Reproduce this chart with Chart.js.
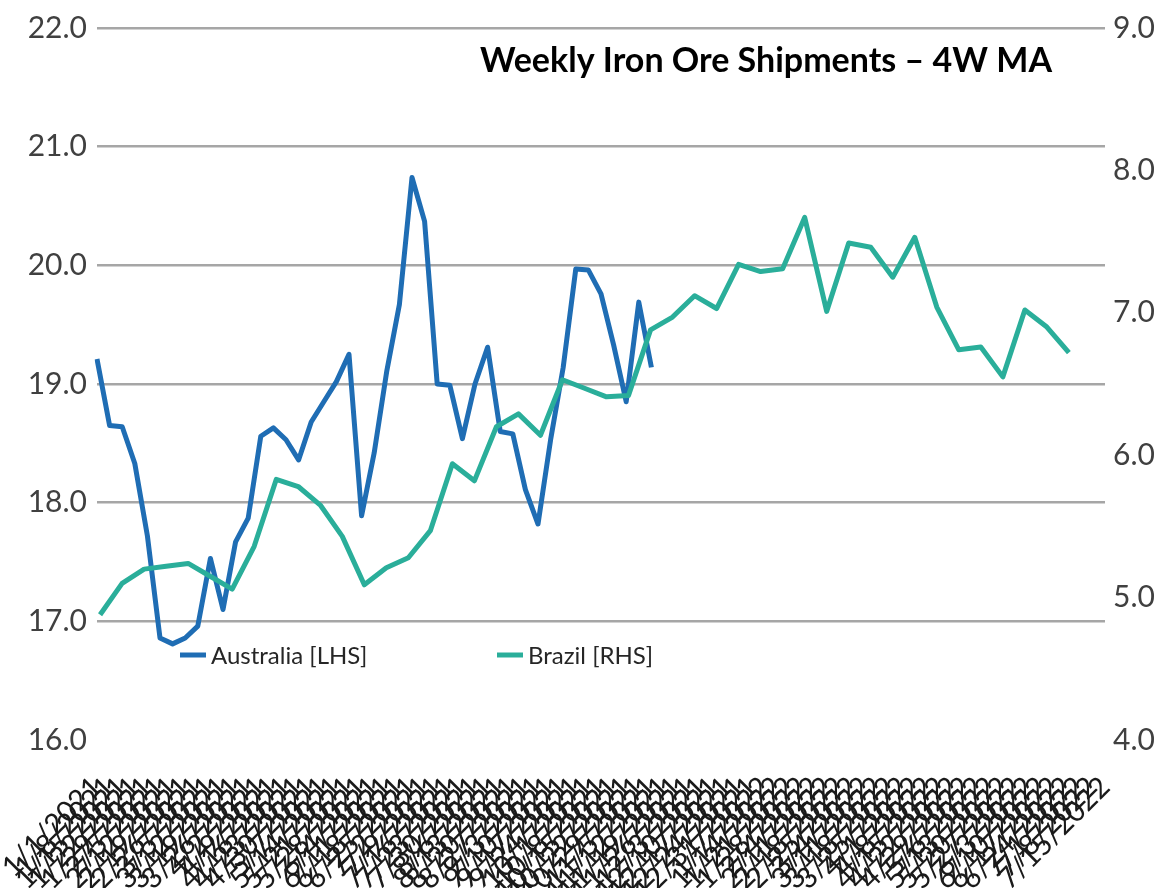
<!DOCTYPE html>
<html>
<head>
<meta charset="utf-8">
<title>Weekly Iron Ore Shipments – 4W MA</title>
<script src="https://cdn.jsdelivr.net/npm/chart.js@4.4.1/dist/chart.umd.min.js"></script>
<style>
  html, body { margin: 0; padding: 0; background: #ffffff; }
  #wrap { position: relative; width: 1163px; height: 888px; }
</style>
</head>
<body>
<div id="wrap"><canvas id="chart"></canvas></div>
<script>
// weekly dates on the visible (primary) category axis
const weekLabels = [
  '1/1/2021', '1/8/2021', '1/15/2021', '1/22/2021', '1/29/2021',
  '2/5/2021', '2/12/2021', '2/19/2021', '2/26/2021',
  '3/5/2021', '3/12/2021', '3/19/2021', '3/26/2021',
  '4/2/2021', '4/9/2021', '4/16/2021', '4/23/2021', '4/30/2021',
  '5/7/2021', '5/14/2021', '5/21/2021', '5/28/2021',
  '6/4/2021', '6/11/2021', '6/18/2021', '6/25/2021',
  '7/2/2021', '7/9/2021', '7/16/2021', '7/23/2021', '7/30/2021',
  '8/6/2021', '8/13/2021', '8/20/2021', '8/27/2021',
  '9/3/2021', '9/10/2021', '9/17/2021', '9/24/2021',
  '10/1/2021', '10/8/2021', '10/15/2021', '10/22/2021', '10/29/2021',
  '11/5/2021', '11/12/2021', '11/19/2021', '11/26/2021',
  '12/3/2021', '12/10/2021', '12/17/2021', '12/24/2021', '12/31/2021',
  '1/7/2022', '1/14/2022', '1/21/2022', '1/28/2022',
  '2/4/2022', '2/11/2022', '2/18/2022', '2/25/2022',
  '3/4/2022', '3/11/2022', '3/18/2022', '3/25/2022',
  '4/1/2022', '4/8/2022', '4/15/2022', '4/22/2022', '4/29/2022',
  '5/6/2022', '5/13/2022', '5/20/2022', '5/27/2022',
  '6/3/2022', '6/10/2022', '6/17/2022', '6/24/2022',
  '7/1/2022', '7/8/2022', '7/15/2022'
];

// Australia, left hand scale
const australia = [
  19.21, 18.65, 18.64, 18.33, 17.72, 16.86, 16.81, 16.86, 16.96, 17.53,
  17.10, 17.67, 17.87, 18.56, 18.63, 18.53, 18.36, 18.68, 18.85, 19.02,
  19.25, 17.89, 18.42, 19.11, 19.67, 20.74, 20.37, 19.00, 18.99, 18.54,
  19.00, 19.31, 18.60, 18.58, 18.11, 17.82, 18.53, 19.14, 19.97, 19.96,
  19.76, 19.33, 18.85, 19.69, 19.14
];

// Brazil, right hand scale (plotted on its own hidden horizontal axis)
const brazil = [
  4.88, 5.10, 5.20, 5.22, 5.24, 5.15, 5.06, 5.36, 5.83, 5.78,
  5.65, 5.43, 5.09, 5.21, 5.28, 5.47, 5.94, 5.82, 6.20, 6.29,
  6.14, 6.53, 6.47, 6.41, 6.42, 6.88, 6.97, 7.12, 7.03, 7.34,
  7.29, 7.31, 7.67, 7.01, 7.49, 7.46, 7.25, 7.53, 7.04, 6.74,
  6.76, 6.55, 7.02, 6.90, 6.72
];

const leftTicks = [16, 17, 18, 19, 20, 21, 22];
const rightTicks = [4, 5, 6, 7, 8, 9];

const chartTitle = 'Weekly Iron Ore Shipments \u2013 4W MA';
const AUS_COLOR = '#1F6DB4';
const BRA_COLOR = '#2AAE9A';

Chart.defaults.font.family = 'Lato, "Open Sans", sans-serif';

// title and legend sit inside the plot area
const overlayPlugin = {
  id: 'overlay',
  afterDraw(chart) {
    const { ctx, chartArea } = chart;
    ctx.save();
    ctx.fillStyle = '#000000';
    ctx.font = 'bold 34px Lato';
    ctx.textAlign = 'right';
    ctx.textBaseline = 'middle';
    ctx.fillText(chartTitle, chartArea.right - 53, chartArea.top + 33);

    const y = chartArea.bottom - 85;
    const items = [
      { x: chartArea.left + 83, ds: chart.data.datasets[0] },
      { x: chartArea.left + 400, ds: chart.data.datasets[1] }
    ];
    ctx.font = '24px Lato';
    ctx.textAlign = 'left';
    items.forEach(it => {
      ctx.strokeStyle = it.ds.borderColor;
      ctx.lineWidth = 5;
      ctx.beginPath();
      ctx.moveTo(it.x, y);
      ctx.lineTo(it.x + 26, y);
      ctx.stroke();
      ctx.fillStyle = '#262626';
      ctx.fillText(it.ds.label, it.x + 31, y + 1);
    });
    ctx.restore();
  }
};

new Chart(document.getElementById('chart'), {
  type: 'line',
  data: {
    labels: weekLabels,
    datasets: [
      {
        label: 'Australia [LHS]',
        data: australia,
        borderColor: AUS_COLOR,
        borderWidth: 5,
        xAxisID: 'x',
        yAxisID: 'y',
        order: 1
      },
      {
        label: 'Brazil [RHS]',
        data: brazil.map((v, i) => ({ x: i, y: v })),
        borderColor: BRA_COLOR,
        borderWidth: 5,
        xAxisID: 'x2',
        yAxisID: 'y2',
        order: 0
      }
    ]
  },
  options: {
    responsive: true,
    maintainAspectRatio: false,
    animation: false,
    layout: { padding: { top: 20, left: 0, right: 0, bottom: 0 } },
    elements: {
      point: { radius: 0, hoverRadius: 0 },
      line: { tension: 0, borderJoinStyle: 'round', borderCapStyle: 'butt', fill: false }
    },
    plugins: {
      legend: { display: false },
      title: { display: false },
      tooltip: { enabled: false }
    },
    scales: {
      x: {
        type: 'category',
        offset: false,
        grid: { display: false, drawTicks: false },
        border: { display: false },
        ticks: {
          autoSkip: false,
          minRotation: 45,
          maxRotation: 45,
          padding: 30,
          labelOffset: 0,
          color: '#1a1a1a',
          font: { size: 29 }
        },
        afterFit(scale) {
          scale.height = 148;
          scale.paddingLeft = 0;
          scale.paddingRight = 0;
        }
      },
      x2: {
        type: 'linear',
        display: false,
        min: -0.14,
        max: 45.64
      },
      y: {
        position: 'left',
        min: leftTicks[0],
        max: leftTicks[leftTicks.length - 1],
        afterBuildTicks(scale) { scale.ticks = leftTicks.map(v => ({ value: v })); },
        grid: {
          color: ctx => (ctx.tick && ctx.tick.value === leftTicks[0]) ? 'rgba(0,0,0,0)' : '#a6a6a6',
          lineWidth: 2.5,
          drawTicks: false
        },
        border: { display: false },
        ticks: {
          padding: 10,
          color: '#404040',
          font: { size: 30 },
          callback: v => Number(v).toFixed(1)
        },
        afterFit(scale) { scale.width = 97; }
      },
      y2: {
        position: 'right',
        min: rightTicks[0],
        max: rightTicks[rightTicks.length - 1],
        afterBuildTicks(scale) { scale.ticks = rightTicks.map(v => ({ value: v })); },
        grid: { display: false, drawTicks: false },
        border: { display: false },
        ticks: {
          padding: 8,
          color: '#404040',
          font: { size: 30 },
          callback: v => Number(v).toFixed(1)
        },
        afterFit(scale) { scale.width = 58; }
      }
    }
  },
  plugins: [overlayPlugin]
});
</script>
</body>
</html>
